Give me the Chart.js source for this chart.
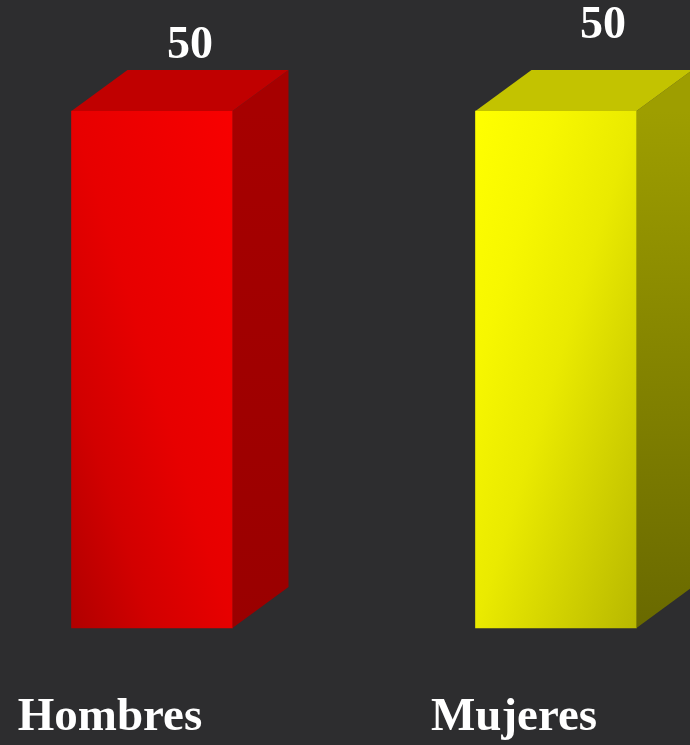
<!DOCTYPE html>
<html>
<head>
<meta charset="utf-8">
<script src="https://cdn.jsdelivr.net/npm/chart.js@4.4.1/dist/chart.umd.min.js"></script>
<style>
    html, body { margin: 0; padding: 0; background: #2d2d2f; }
    #wrap { width: 690px; height: 745px; position: relative; }
</style>
</head>
<body>
<div id="wrap"><canvas id="chart"></canvas></div>
<script>
// chart data
const categories = ['Hombres', 'Mujeres'];
const values = [50, 50];

// face colours for each bar: front gradient stops, top, side gradient
const frontStops = [
    ['#b00000', '#d20000', '#e70000', '#f80000'],
    ['#ffff00', '#f7f700', '#eaea00', '#b8b800']
];
const topColors = ['#c00000', '#c3c300'];
const sideTop = ['#a60000', '#9e9e00'];
const sideBottom = ['#9a0000', '#696900'];

// small shift of each value label relative to the bar
const labelShiftX = [38, 47];
const labelShiftY = [-65, -85];

const depthX = 56;
const depthY = -41;

// draws the top and side faces + value labels
const box3d = {
    id: 'box3d',
    afterDatasetsDraw(chart) {
        const ctx = chart.ctx;
        const meta = chart.getDatasetMeta(0);
        meta.data.forEach((bar, i) => {
            const left = bar.x - bar.width / 2;
            const right = bar.x + bar.width / 2;
            const top = bar.y;
            const bottom = bar.base;

            ctx.save();
            // side face
            const sg = ctx.createLinearGradient(0, top, 0, bottom);
            sg.addColorStop(0, sideTop[i]);
            sg.addColorStop(1, sideBottom[i]);
            ctx.fillStyle = sg;
            ctx.beginPath();
            ctx.moveTo(right, top);
            ctx.lineTo(right + depthX, top + depthY);
            ctx.lineTo(right + depthX, bottom + depthY);
            ctx.lineTo(right, bottom);
            ctx.closePath();
            ctx.fill();

            // top face
            ctx.fillStyle = topColors[i];
            ctx.beginPath();
            ctx.moveTo(left, top);
            ctx.lineTo(right, top);
            ctx.lineTo(right + depthX, top + depthY);
            ctx.lineTo(left + depthX, top + depthY);
            ctx.closePath();
            ctx.fill();

            // value label
            ctx.fillStyle = '#ffffff';
            ctx.font = 'bold 46px "Liberation Serif", serif';
            ctx.textAlign = 'center';
            ctx.textBaseline = 'middle';
            ctx.fillText(String(values[i]), bar.x + labelShiftX[i], top + labelShiftY[i]);
            ctx.restore();
        });
    }
};

const canvas = document.getElementById('chart');

new Chart(canvas, {
    type: 'bar',
    data: {
        labels: categories,
        datasets: [{
            data: values,
            clip: false,
            barThickness: 161,
            borderWidth: 0,
            backgroundColor: function(context) {
                const chart = context.chart;
                const area = chart.chartArea;
                const i = context.dataIndex;
                const stops = frontStops[i];
                if (!area) return stops[2];
                const yScale = chart.scales.y;
                const cx = chart.scales.x.getPixelForValue(i);
                const w = 161;
                const left = cx - w / 2;
                const top = yScale.getPixelForValue(values[i]);
                const bottom = yScale.getPixelForValue(0);
                const h = bottom - top;
                // gradient so that the two other corners sit at the middle stop
                const k = 2 * w * h / (w * w + h * h);
                let g;
                if (i === 0) {
                    // dark bottom-left to bright top-right
                    g = chart.ctx.createLinearGradient(left, bottom, left + h * k, bottom - w * k);
                } else {
                    // bright top-left to dark bottom-right
                    g = chart.ctx.createLinearGradient(left, top, left + h * k, top + w * k);
                }
                g.addColorStop(0, stops[0]);
                g.addColorStop(0.25, stops[1]);
                g.addColorStop(0.5, stops[2]);
                g.addColorStop(1, stops[3]);
                return g;
            }
        }]
    },
    options: {
        responsive: true,
        maintainAspectRatio: false,
        animation: false,
        layout: {
            padding: { top: 111, left: 152, right: 134, bottom: 0 }
        },
        plugins: {
            legend: { display: false },
            tooltip: { enabled: false }
        },
        scales: {
            y: {
                display: false,
                min: 0,
                max: 50
            },
            x: {
                offset: false,
                grid: { display: false, drawTicks: false },
                border: { display: false },
                afterFit: function(scale) {
                    scale.height = 117;
                    scale.paddingLeft = 0;
                    scale.paddingRight = 0;
                },
                ticks: {
                    color: '#ffffff',
                    padding: 62,
                    labelOffset: -42,
                    maxRotation: 0,
                    autoSkip: false,
                    font: { family: '"Liberation Serif", serif', size: 47, weight: 'bold' }
                }
            }
        }
    },
    plugins: [box3d]
});
</script>
</body>
</html>
